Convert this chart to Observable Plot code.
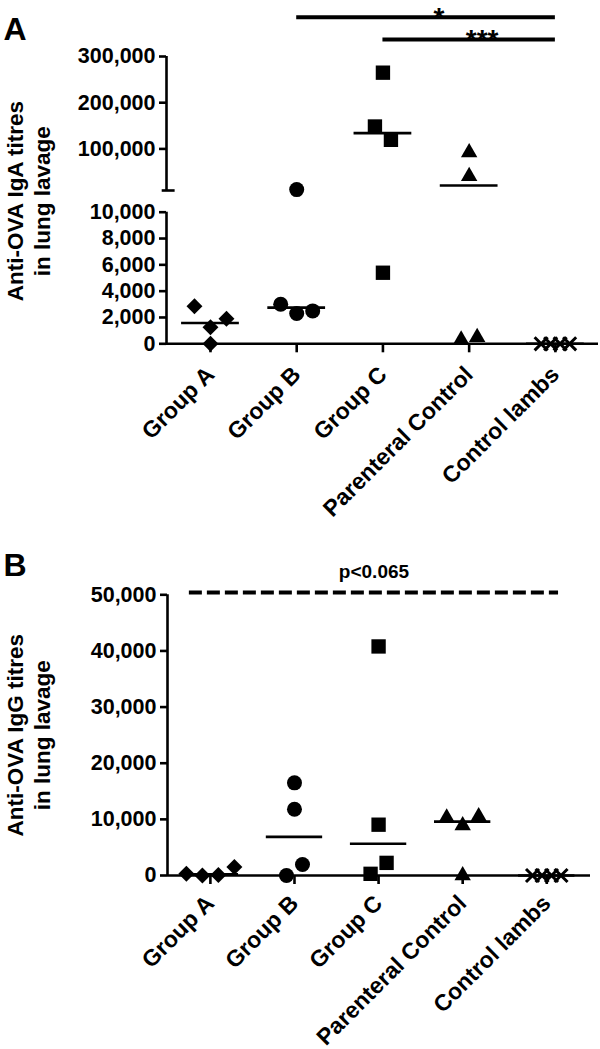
<!DOCTYPE html>
<html>
<head>
<meta charset="utf-8">
<script src="https://cdn.jsdelivr.net/npm/d3@7"></script>
<script src="https://cdn.jsdelivr.net/npm/@observablehq/plot@0.6"></script>
<style>
  html, body { margin: 0; padding: 0; background: #fff; }
  #chart { width: 600px; }
  #chart svg { display: block; }
</style>
</head>
<body>
<div id="chart"></div>
<script>
// ---------- DATA ----------
const categories = ["Group A", "Group B", "Group C", "Parenteral Control", "Control lambs"];

// Panel A: anti-OVA IgA titres in lung lavage (one value per animal)
const igaGroupA     = [0, 2850, 1250, 1900];
const igaGroupB     = [3000, 2300, 2500, 12000];
const igaGroupC     = [265000, 148500, 119700, 5400];
const igaParenteral = [92000, 41000, 300, 500];
const igaControl    = [0, 0, 0, 0];

// Panel B: anti-OVA IgG titres in lung lavage
const iggGroupA     = [300, 0, 100, 1500];
const iggGroupB     = [16500, 11800, 0, 1950];
const iggGroupC     = [40800, 9050, 300, 2250];
const iggParenteral = [10300, 8900, 10500, 0];
const iggControl    = [0, 0, 0, 0];

const igaTicks = [0, 2000, 4000, 6000, 8000, 10000, 100000, 200000, 300000];
const iggTicks = [0, 10000, 20000, 30000, 40000, 50000];

const igaComparisons = [
  {from: "Group C", to: "Control lambs", label: "***"},
  {from: "Group B", to: "Control lambs", label: "*"}
];
const iggComparisons = [
  {from: "Group A", to: "Control lambs", label: "p<0.065"}
];

const yTitleA = "Anti-OVA IgA titres\nin lung lavage";
const yTitleB = "Anti-OVA IgG titres\nin lung lavage";

// ---------- STYLE ----------
const FONT = "'Liberation Sans', Arial, Helvetica, sans-serif";
const markers = [
  {symbol: "diamond2", r: 7.2, fill: "#000"},
  {symbol: "circle",   r: 7.5, fill: "#000"},
  {symbol: "square",   r: 8.1, fill: "#000"},
  {symbol: "triangle", r: 6.1, fill: "#000"},
  {symbol: "times",    r: 6,   fill: "none", stroke: "#000", strokeWidth: 3}
];
const AXW = 2.6;

// Prism-like horizontal spreading of overlapping points in a column
function dodge(vals, ypx, gap, spacing) {
  const items = vals.map((v, i) => ({i, y: ypx(v)}));
  const sorted = items.slice().sort((a, b) => b.y - a.y);
  const clusters = [];
  let cur = [];
  for (const it of sorted) {
    if (cur.length && Math.abs(it.y - cur[cur.length - 1].y) >= gap) { clusters.push(cur); cur = []; }
    cur.push(it);
  }
  if (cur.length) clusters.push(cur);
  const off = new Array(vals.length).fill(0);
  for (const c of clusters) {
    c.sort((a, b) => a.i - b.i);
    c.forEach((it, k) => { off[it.i] = (k - (c.length - 1) / 2) * spacing; });
  }
  return off;
}

function buildRows(groups, yFn, pxPerUnit) {
  const rows = [];
  groups.forEach((vals, gi) => {
    const spacing = markers[gi].symbol === "times" ? 9.5 : 16;
    const offs = dodge(vals, yFn, 14, spacing);
    vals.forEach((v, k) => rows.push({gi, value: v, x: gi + offs[k] / pxPerUnit}));
  });
  return rows;
}

function panel({groups, ticks, comparisons, title, letter, height, axisY, topY, yDomain, yRange,
                xDomain, ml, mr, sigLevel, sigStep, sigFont, sigDash, sigExtend, titleDy, capAt,
                labelPad, letterDy}) {
  const yFn = d3.scaleLinear(yDomain, yRange);
  const pxPerUnit = (600 - ml - mr) / (xDomain[1] - xDomain[0]);
  const rows = buildRows(groups, yFn, pxPerUnit);
  const medians = groups.map((vals, gi) => ({gi, m: d3.median(vals)}));
  const idx = (name) => categories.indexOf(name);
  const x0 = xDomain[0];
  const marks = [];
  // axis lines
  marks.push(Plot.ruleY([0], {x1: x0, x2: xDomain[1], strokeWidth: AXW}));
  if (capAt) {
    marks.push(Plot.ruleX([x0], {y1: 0, y2: capAt[0], strokeWidth: AXW}));
    marks.push(Plot.ruleX([x0], {y1: capAt[1], y2: yDomain[yDomain.length - 1], strokeWidth: AXW}));
    marks.push(Plot.ruleY([capAt[1]], {x1: x0 - 0.05, x2: x0 + 0.1, strokeWidth: AXW}));
  } else {
    marks.push(Plot.ruleX([x0], {y1: 0, y2: yDomain[yDomain.length - 1], strokeWidth: AXW}));
  }
  marks.push(Plot.axisY(ticks, {anchor: "left", tickSize: 7, tickPadding: 4, tickFormat: d3.format(","),
    strokeWidth: AXW, fontSize: 21.5, label: null}));
  marks.push(Plot.axisX(d3.range(categories.length), {anchor: "bottom", tickSize: 9, tickPadding: labelPad,
    tickRotate: -45, tickFormat: (i) => categories[i], strokeWidth: AXW, fontSize: 23, label: null}));
  // medians
  marks.push(Plot.ruleY(medians, {y: "m", x1: (d) => d.gi - 0.335, x2: (d) => d.gi + 0.335, strokeWidth: 2.6}));
  // points
  markers.forEach((mk, gi) => {
    marks.push(Plot.dot(rows.filter((d) => d.gi === gi), {x: "x", y: "value", ...mk}));
  });
  // significance annotations
  comparisons.forEach((c, k) => {
    const lvl = sigLevel + k * sigStep;
    const a = idx(c.from) - sigExtend[0], b = idx(c.to) + sigExtend[1];
    marks.push(Plot.ruleY([lvl], {x1: a, x2: b, strokeWidth: 4, strokeDasharray: sigDash}));
    marks.push(Plot.text([c.label], {x: (a + b) / 2 + sigFont.shift, y: lvl, text: (d) => d,
      fontSize: sigFont.size, dy: sigFont.dy, lineAnchor: sigFont.anchor}));
  });
  // y title
  marks.push(Plot.text([title], {frameAnchor: "left", text: (d) => d, rotate: -90, dx: 27.5 - ml, dy: titleDy,
    fontSize: 22.5, lineHeight: 1.2, textAnchor: "middle", lineAnchor: "middle"}));
  // panel letter
  marks.push(Plot.text([letter], {frameAnchor: "top-left", text: (d) => d, dx: 3 - ml, dy: letterDy,
    fontSize: 32, textAnchor: "start", lineAnchor: "bottom"}));

  return Plot.plot({
    width: 600, height,
    marginLeft: ml, marginRight: mr, marginTop: topY, marginBottom: height - axisY,
    x: {type: "linear", domain: xDomain},
    y: {type: "linear", domain: yDomain, range: yRange},
    style: {fontFamily: FONT, fontWeight: "bold", fontSize: "21px", color: "#000", background: "#fff", overflow: "visible"},
    marks
  });
}

const chart = document.getElementById("chart");

chart.append(panel({
  groups: [igaGroupA, igaGroupB, igaGroupC, igaParenteral, igaControl],
  ticks: igaTicks, comparisons: igaComparisons, title: yTitleA, letter: "A",
  height: 545, axisY: 343.3, topY: 56,
  yDomain: [0, 10000, 10001, 300000], yRange: [343.3, 211.7, 190, 56],
  xDomain: [-0.51, 4.5], ml: 166, mr: 2,
  sigLevel: 337000, sigStep: 48000, sigDash: null, sigExtend: [0, 0],
  sigFont: {size: 28, dy: 9.5, anchor: "bottom", shift: 0.15},
  titleDy: 1, capAt: [10000, 10001], labelPad: 18, letterDy: -17
}));

chart.append(panel({
  groups: [iggGroupA, iggGroupB, iggGroupC, iggParenteral, iggControl],
  ticks: iggTicks, comparisons: iggComparisons, title: yTitleB, letter: "B",
  height: 504, axisY: 330, topY: 49.3,
  yDomain: [0, 50000], yRange: [330, 49.3],
  xDomain: [-0.51, 4.52], ml: 167, mr: 10,
  sigLevel: 50400, sigStep: 0, sigDash: "13,5", sigExtend: [0.25, 0.14],
  sigFont: {size: 19, dy: -21, anchor: "middle", shift: 0},
  titleDy: 0, capAt: null, labelPad: 15, letterDy: -19
}));
</script>
</body>
</html>
